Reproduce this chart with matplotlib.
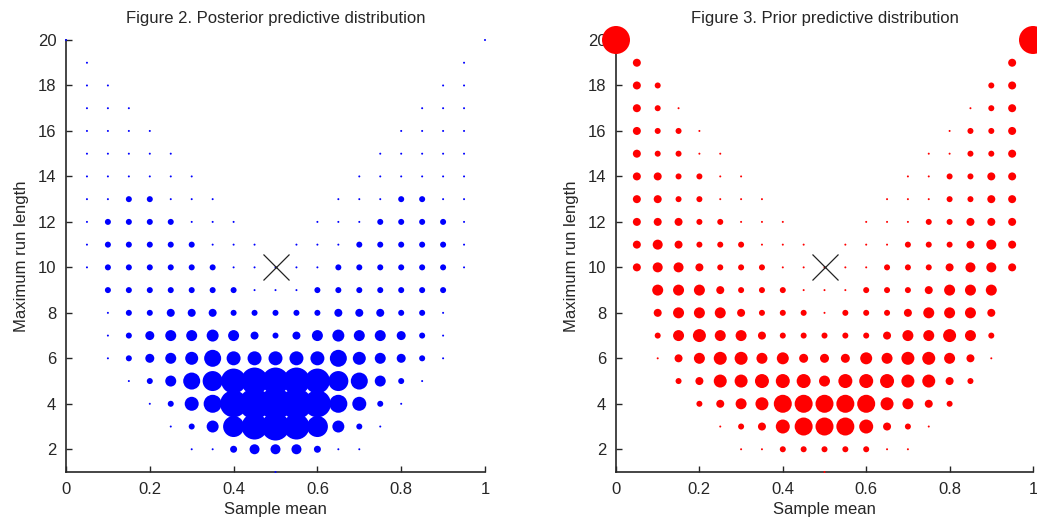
import numpy as np
import matplotlib
matplotlib.use("Agg")
import matplotlib.pyplot as plt

plt.rcParams['font.family'] = ['Liberation Sans', 'DejaVu Sans']

# sample mean k/20 for k = 0..20 and max run length rows 20..1
sample_means = [k / 20 for k in range(21)]
run_lengths = list(range(20, 0, -1))

# relative dot weights (estimated marker diameter, px)
# rows: run length 20 (top) down to 1; columns: k = 0..20
posterior_weight = [
    [2,0,0,0,0,0,0,0,0,0,0,0,0,0,0,0,0,0,0,0,2],
    [0,2,0,0,0,0,0,0,0,0,0,0,0,0,0,0,0,0,0,2,0],
    [0,2,2,0,0,0,0,0,0,0,0,0,0,0,0,0,0,0,2,2,0],
    [0,2,2,2,0,0,0,0,0,0,0,0,0,0,0,0,0,2,2,2,0],
    [0,2,2,2,2,0,0,0,0,0,0,0,0,0,0,0,2,2,2,2,0],
    [0,2,2,2,2,2,0,0,0,0,0,0,0,0,0,2,2,2,2,2,0],
    [0,2,2,2,2,2,2,0,0,0,0,0,0,0,2,2,2,2,2,2,0],
    [0,2,2,6,6,2,2,2,0,0,0,0,0,2,2,2,6,6,2,2,0],
    [0,2,6,6,6,6,2,2,2,0,0,0,2,2,2,6,6,6,6,2,0],
    [0,2,6,6,6,6,6,2,2,2,0,2,2,2,6,6,6,6,6,2,0],
    [0,2,6,6,6,6,6,6,2,2,2,2,2,6,6,6,6,6,6,2,0],
    [0,0,6,6,6,6,6,6,6,2,2,2,6,6,6,6,6,6,6,0,0],
    [0,0,2,6,6,8,8,8,6,6,6,6,6,8,8,8,6,6,2,0,0],
    [0,0,2,6,9,11,11,12,11,8,6,8,11,12,11,11,9,6,2,0,0],
    [0,0,2,6,9,11,13,17,14,14,14,14,14,17,13,11,9,6,2,0,0],
    [0,0,0,2,6,11,17,20,25,27,27,27,25,20,17,11,6,2,0,0,0],
    [0,0,0,0,2,6,14,18,27,31,32,31,27,18,14,6,2,0,0,0,0],
    [0,0,0,0,0,2,6,12,21,26,28,26,21,12,6,2,0,0,0,0,0],
    [0,0,0,0,0,0,2,2,7,10,10,10,7,2,2,0,0,0,0,0,0],
    [0,0,0,0,0,0,0,0,0,0,2,0,0,0,0,0,0,0,0,0,0],
]

prior_weight = [
    [28,0,0,0,0,0,0,0,0,0,0,0,0,0,0,0,0,0,0,0,28],
    [0,8,0,0,0,0,0,0,0,0,0,0,0,0,0,0,0,0,0,8,0],
    [0,8,6,0,0,0,0,0,0,0,0,0,0,0,0,0,0,0,6,8,0],
    [0,8,6,2,0,0,0,0,0,0,0,0,0,0,0,0,0,2,6,8,0],
    [0,8,6,6,2,0,0,0,0,0,0,0,0,0,0,0,2,6,6,8,0],
    [0,8,6,6,2,2,0,0,0,0,0,0,0,0,0,2,2,6,6,8,0],
    [0,8,8,6,6,2,2,0,0,0,0,0,0,0,2,2,6,6,8,8,0],
    [0,8,8,6,6,2,2,2,0,0,0,0,0,2,2,2,6,6,8,8,0],
    [0,8,8,8,6,6,2,2,2,0,0,0,2,2,2,6,6,8,8,8,0],
    [0,8,10,8,6,6,6,2,2,2,0,2,2,2,6,6,6,8,10,8,0],
    [0,8,10,10,8,6,6,6,2,2,2,2,2,6,6,6,8,10,10,8,0],
    [0,0,11,11,11,8,6,6,6,2,2,2,6,6,6,8,11,11,11,0,0],
    [0,0,8,11,11,11,8,6,6,6,2,6,6,6,8,11,11,11,8,0,0],
    [0,0,6,11,13,11,11,8,6,6,6,6,6,8,11,11,13,11,6,0,0],
    [0,0,2,8,11,13,13,11,12,9,9,9,12,11,13,13,11,8,2,0,0],
    [0,0,0,6,8,13,13,14,14,14,11,14,14,14,13,13,8,6,0,0,0],
    [0,0,0,0,6,8,11,13,18,18,18,18,18,13,11,8,6,0,0,0,0],
    [0,0,0,0,0,2,6,8,14,18,18,18,14,8,6,2,0,0,0,0,0],
    [0,0,0,0,0,0,2,2,6,6,6,6,6,2,2,0,0,0,0,0,0],
    [0,0,0,0,0,0,0,0,0,0,2,0,0,0,0,0,0,0,0,0,0],
]

observed_mean = 0.5
observed_run = 10

titles = ["Figure 2. Posterior predictive distribution",
          "Figure 3. Prior predictive distribution"]
xlabel = "Sample mean"
ylabel = "Maximum run length"
xticks = [0, 0.2, 0.4, 0.6, 0.8, 1]
xtick_labels = ["0", "0.2", "0.4", "0.6", "0.8", "1"]
yticks = [2, 4, 6, 8, 10, 12, 14, 16, 18, 20]

W, H = 1037, 525
fig = plt.figure(figsize=(W / 100, H / 100), dpi=100)
px2pt = 72 / 100

axes_px = [(66, 40, 485, 472), (616, 40, 1033, 472)]
colors = [(0, 0, 1), (1, 0, 0)]
grids = [posterior_weight, prior_weight]

for i in range(2):
    l, t, r, b = axes_px[i]
    ax = fig.add_axes([l / W, 1 - b / H, (r - l) / W, (b - t) / H])
    xs, ys, ss = [], [], []
    g = np.array(grids[i], dtype=float)
    for ri, rl in enumerate(run_lengths):
        for k, m in enumerate(sample_means):
            if g[ri, k] > 0:
                xs.append(m)
                ys.append(rl)
                ss.append((g[ri, k] * px2pt) ** 2)
    ax.scatter(xs, ys, s=ss, c=[colors[i]], linewidths=0, clip_on=False, zorder=3)
    ax.plot([observed_mean], [observed_run], marker='x', color='#222222',
            markersize=19, markeredgewidth=0.9, linestyle='none', zorder=4,
            clip_on=False)
    ax.set_xlim(0, 1)
    ax.set_ylim(1, 20)
    ax.set_xticks(xticks)
    ax.set_xticklabels(xtick_labels)
    ax.set_yticks(yticks)
    for side in ['top', 'right']:
        ax.spines[side].set_visible(False)
    for side in ['left', 'bottom']:
        ax.spines[side].set_color('#262626')
        ax.spines[side].set_linewidth(1.2)
    ax.tick_params(direction='in', length=4, width=1, colors='#262626',
                   labelsize=12, pad=7)
    ax.set_title(titles[i], fontsize=12, pad=12, color='#262626')
    ax.set_xlabel(xlabel, fontsize=12, labelpad=4, color='#262626')
    ax.set_ylabel(ylabel, fontsize=12, labelpad=6, color='#262626')

fig.savefig("out.png", dpi=100)
